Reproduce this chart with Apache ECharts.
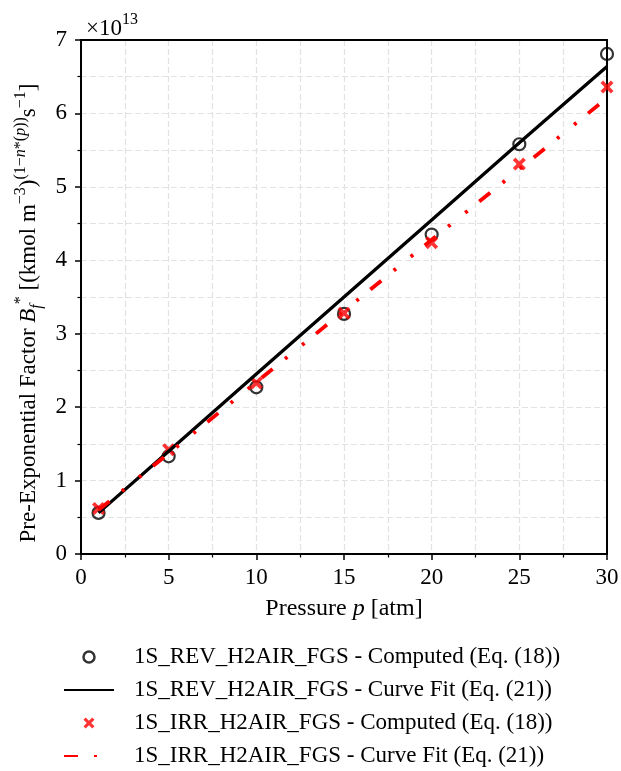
<!DOCTYPE html>
<html lang="en">

<head>
    <meta charset="UTF-8">
    <title>Pre-exponential factor vs pressure</title>
    <style>
        html, body { margin: 0; padding: 0; background: #fff; }
        #chart { width: 621px; height: 771px; }
    </style>
    <script src="https://cdn.jsdelivr.net/npm/echarts@6/dist/echarts.min.js"></script>
</head>

<body>
    <div id="chart"></div>
    <script>
        // values in units of 1e13
        var pressure = [1, 5, 10, 15, 20, 25, 30];
        var revComputed = [0.56, 1.33, 2.27, 3.27, 4.35, 5.58, 6.81];
        var revFit = [0.56, 1.40, 2.45, 3.50, 4.55, 5.60, 6.64];
        var irrComputed = [0.62, 1.42, 2.33, 3.28, 4.24, 5.31, 6.36];
        var irrFit = [0.60, 1.37, 2.34, 3.31, 4.28, 5.24, 6.21];

        var xTicks = [0, 5, 10, 15, 20, 25, 30];
        var yTicks = [0, 1, 2, 3, 4, 5, 6, 7];

        var names = [
            '1S_REV_H2AIR_FGS - Computed (Eq. (18))',
            '1S_REV_H2AIR_FGS - Curve Fit (Eq. (21))',
            '1S_IRR_H2AIR_FGS - Computed (Eq. (18))',
            '1S_IRR_H2AIR_FGS - Curve Fit (Eq. (21))'
        ];

        function pairs(xs, ys) {
            return xs.map(function (x, i) { return [x, ys[i]]; });
        }

        var font = 'Liberation Serif';
        var crossPath = 'path://M0,4 L4,0 L10,6 L16,0 L20,4 L14,10 L20,16 L16,20 L10,14 L4,20 L0,16 L6,10 Z';
        var dashDotDot = [14, 16, 3, 19, 3, 15];

        var gridLine = { color: '#e2e2e2', width: 1.2, type: [6, 3] };
        var blackLine = { color: '#000', width: 2 };

        var myChart = echarts.init(document.getElementById('chart'));
        var option = {
            backgroundColor: '#fff',
            animation: false,
            textStyle: { fontFamily: font, color: '#000' },
            title: {
                text: '{a|×10}{s|13}',
                left: 81,
                top: 7,
                textStyle: {
                    fontWeight: 'normal',
                    rich: {
                        a: { fontFamily: font, fontSize: 23, fontWeight: 'normal', color: '#000', lineHeight: 28, verticalAlign: 'bottom' },
                        s: { fontFamily: font, fontSize: 16, fontWeight: 'normal', color: '#000', lineHeight: 15, verticalAlign: 'top' }
                    }
                }
            },
            grid: {
                left: 81, right: 14, top: 40, bottom: 217,
                outerBoundsMode: 'none',
                containLabel: false
            },
            legend: {
                orient: 'vertical',
                left: 63,
                top: 644,
                padding: 0,
                itemWidth: 50,
                itemHeight: 11,
                itemGap: 7,
                data: [
                    { name: names[0], itemStyle: { borderWidth: 2.5 } },
                    { name: names[1], itemStyle: { opacity: 0 } },
                    { name: names[2] },
                    { name: names[3], itemStyle: { opacity: 0 } }
                ],
                textStyle: { fontFamily: font, fontSize: 23, color: '#000', lineHeight: 26, padding: [0, 0, 0, 15] }
            },
            xAxis: [{
                type: 'value',
                min: 0, max: 30, interval: 5,
                name: '{a|Pressure }{i|p}{a| [atm]}',
                nameLocation: 'middle',
                nameGap: 43,
                nameTextStyle: {
                    rich: {
                        a: { fontFamily: font, fontSize: 24, color: '#000' },
                        i: { fontFamily: font, fontSize: 24, color: '#000', fontStyle: 'italic' }
                    }
                },
                axisLine: { show: true, onZero: false, lineStyle: blackLine },
                axisTick: { show: true, length: 6, lineStyle: { color: '#000', width: 1.5 } },
                minorTick: { show: true, splitNumber: 2, length: 3.5, lineStyle: { color: '#000', width: 1.2 } },
                axisLabel: {
                    fontSize: 23, color: '#000', margin: 12, fontFamily: font,
                    formatter: function (v) { return xTicks.indexOf(v) >= 0 ? String(v) : ''; }
                },
                splitLine: { show: true, lineStyle: gridLine },
                minorSplitLine: { show: true, lineStyle: gridLine }
            }, {
                type: 'value',
                position: 'top',
                min: 0, max: 30,
                axisLine: { show: true, onZero: false, lineStyle: blackLine },
                axisTick: { show: false },
                axisLabel: { show: false },
                splitLine: { show: false }
            }],
            yAxis: [{
                type: 'value',
                min: 0, max: 7, interval: 1,
                name: '{a|Pre-Exponential Factor }{i|B}{sb|f}{sp|*}{a| [(kmol m}{sp|−3}{a|)}{sp|(1−}{spi|n}{sp|*}{sp|(}{spi|p}{sp|))}{a|s}{sp|−1}{a|]}',
                nameLocation: 'middle',
                nameGap: 36,
                nameRotate: 90,
                nameTextStyle: {
                    padding: [0, 32, 0, 0],
                    rich: {
                        a: { fontFamily: font, fontSize: 23, color: '#000', lineHeight: 32, verticalAlign: 'middle' },
                        i: { fontFamily: font, fontSize: 23, color: '#000', fontStyle: 'italic', lineHeight: 32, verticalAlign: 'middle' },
                        sp: { fontFamily: font, fontSize: 16, color: '#000', lineHeight: 16, verticalAlign: 'top' },
                        spi: { fontFamily: font, fontSize: 16, color: '#000', fontStyle: 'italic', lineHeight: 16, verticalAlign: 'top' },
                        sb: { fontFamily: font, fontSize: 16, color: '#000', fontStyle: 'italic', lineHeight: 14, verticalAlign: 'bottom' }
                    }
                },
                axisLine: { show: true, onZero: false, lineStyle: blackLine },
                axisTick: { show: true, length: 6, lineStyle: { color: '#000', width: 1.5 } },
                minorTick: { show: true, splitNumber: 2, length: 3.5, lineStyle: { color: '#000', width: 1.2 } },
                axisLabel: {
                    fontSize: 23, color: '#000', margin: 14, fontFamily: font,
                    formatter: function (v) { return yTicks.indexOf(v) >= 0 ? String(v) : ''; }
                },
                splitLine: { show: true, lineStyle: gridLine },
                minorSplitLine: { show: true, lineStyle: gridLine }
            }, {
                type: 'value',
                position: 'right',
                min: 0, max: 7,
                axisLine: { show: true, onZero: false, lineStyle: blackLine },
                axisTick: { show: false },
                axisLabel: { show: false },
                splitLine: { show: false }
            }],
            series: [{
                name: names[0],
                type: 'scatter',
                symbol: 'circle',
                symbolSize: 12,
                itemStyle: { color: 'transparent', borderColor: '#000', borderWidth: 2.2 },
                data: pairs(pressure, revComputed)
            }, {
                name: names[1],
                type: 'line',
                symbol: 'none',
                lineStyle: { color: '#000', width: 3.3 },
                itemStyle: { color: '#000' },
                data: pairs(pressure, revFit)
            }, {
                name: names[2],
                type: 'scatter',
                symbol: crossPath,
                symbolSize: 13,
                itemStyle: { color: '#ff0000' },
                data: pairs(pressure, irrComputed)
            }, {
                name: names[3],
                type: 'line',
                symbol: 'none',
                lineStyle: { color: '#ff0000', width: 3.8, type: dashDotDot },
                itemStyle: { color: '#ff0000' },
                data: pairs(pressure, irrFit)
            }]
        };
        myChart.setOption(option);
    </script>
</body>

</html>
